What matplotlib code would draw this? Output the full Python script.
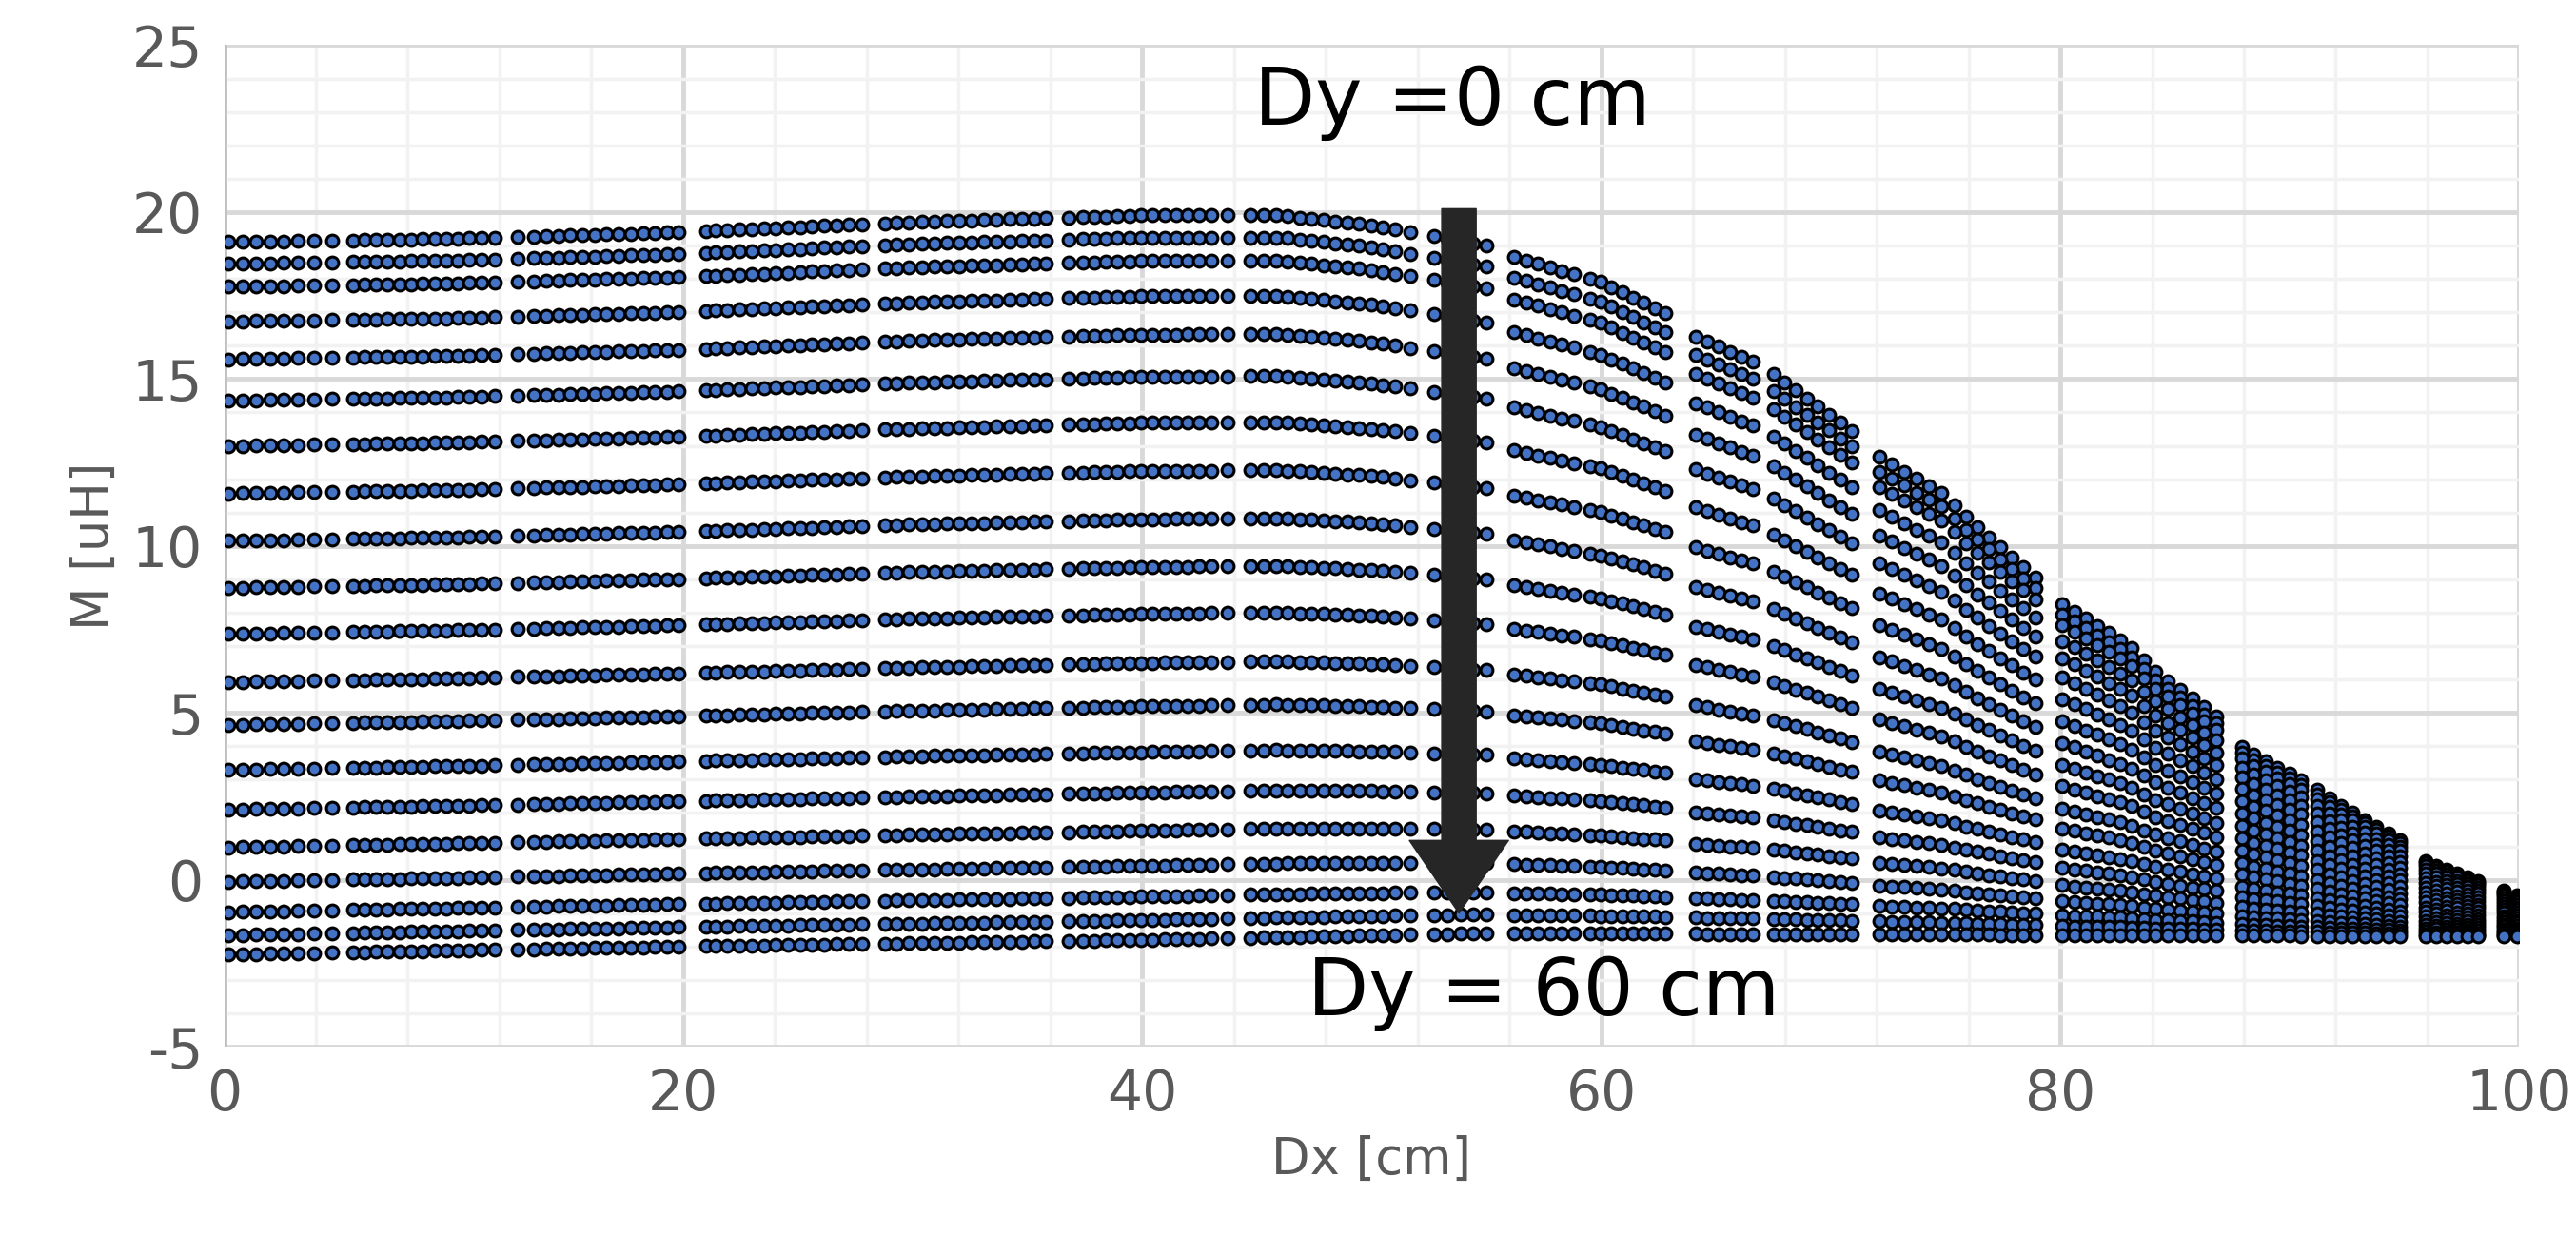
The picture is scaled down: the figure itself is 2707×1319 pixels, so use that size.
import numpy as np
import matplotlib.pyplot as plt

plt.rcParams['axes.unicode_minus'] = False

# M at Dx=0 for each Dy row (top row = Dy 0 cm)
m_at_0 = [19.1, 18.45, 17.76, 16.72, 15.59, 14.35, 12.99, 11.57, 10.15, 8.74,
          7.36, 5.92, 4.64, 3.29, 2.10, 0.97, -0.06, -0.97, -1.66, -2.24]

# upper envelope (Dy = 0)
top_dx = [0, 10, 20, 30, 40, 46, 50, 55, 56, 60, 63, 64, 67, 68, 71, 72, 75,
          76, 79, 80, 83, 84, 87, 88, 91, 92, 95, 96, 98, 100]
top_m = [19.1, 19.2, 19.4, 19.7, 19.9, 19.9, 19.6, 19.0, 18.7, 17.9, 16.9, 16.3,
         15.4, 14.9, 13.4, 12.7, 11.5, 10.8, 9.0, 8.3, 7.0, 6.3, 4.8, 3.9, 2.8,
         2.3, 1.1, 0.5, 0.0, -0.5]
# lower envelope (Dy = 60)
bot_dx = [0, 20, 40, 55, 100]
bot_m = [-2.24, -2.0, -1.8, -1.6, -1.7]

# groups of Dx sample positions: (start, end, count)
dx_groups = [(0.2, 3.2, 6), (3.9, 4.7, 2), (5.6, 11.2, 12), (11.8, 12.8, 2),
             (13.5, 19.3, 12), (19.8, 21.0, 2), (21.4, 27.2, 12), (27.8, 28.8, 2),
             (29.3, 35.3, 12), (35.8, 36.8, 2), (37.4, 43.0, 12), (43.7, 44.7, 2),
             (45.3, 51.0, 12), (51.7, 52.7, 2), (53.3, 55.0, 4),
             (56.2, 58.8, 6), (59.5, 62.8, 8), (64.1, 66.6, 6), (67.5, 70.9, 8),
             (72.1, 74.8, 6), (75.4, 78.9, 8), (80.1, 82.6, 6), (83.1, 86.8, 8),
             (87.9, 90.5, 6), (91.2, 94.8, 8), (95.9, 98.2, 6), (99.3, 99.9, 2)]

dx = np.concatenate([np.linspace(a, b, n) for a, b, n in dx_groups])
top = np.interp(dx, top_dx, top_m)
bot = np.interp(dx, bot_dx, bot_m)
m0 = np.array(m_at_0)
frac = (m0 - m0[-1]) / (m0[0] - m0[-1])

xs, ys = [], []
for f in frac:
    xs.append(dx)
    ys.append(bot + f * (top - bot))
xs = np.concatenate(xs)
ys = np.concatenate(ys)

fig = plt.figure(figsize=(27.07, 13.19), dpi=100)
ax = fig.add_axes([0.087, 0.166, 0.891, 0.798])
ax.scatter(xs, ys, s=85, c='#4472C4', edgecolors='black', linewidths=2.2, zorder=3)

ax.set_xlim(0, 100)
ax.set_ylim(-5, 25)
ax.set_xticks(range(0, 101, 20))
ax.set_yticks(range(-5, 26, 5))
ax.set_xticks(range(0, 101, 4), minor=True)
ax.set_yticks(range(-5, 26, 1), minor=True)
ax.grid(which='major', color='#d9d9d9', linewidth=3.5)
ax.grid(which='minor', color='#f2f2f2', linewidth=2.5)
ax.set_axisbelow(True)
for s in ax.spines.values():
    s.set_visible(False)
ax.axvline(0, color='#bfbfbf', linewidth=4, zorder=1)
ax.tick_params(which='both', length=0, labelsize=42, labelcolor='#595959', pad=16)
ax.set_xlabel('Dx [cm]', fontsize=38, color='#595959', labelpad=10)
ax.set_ylabel('M [uH]', fontsize=38, color='#595959', labelpad=10)

ax.annotate('', xy=(53.8, -1.0), xytext=(53.8, 20.1),
            arrowprops=dict(facecolor='#262626', edgecolor='#262626',
                            width=26, headwidth=75, headlength=55), zorder=5)
ax.text(53.5, 23.3, 'Dy =0 cm', fontsize=60, ha='center', va='center', color='black')
ax.text(57.5, -3.4, 'Dy = 60 cm', fontsize=60, ha='center', va='center', color='black')

fig.savefig('out.png')
